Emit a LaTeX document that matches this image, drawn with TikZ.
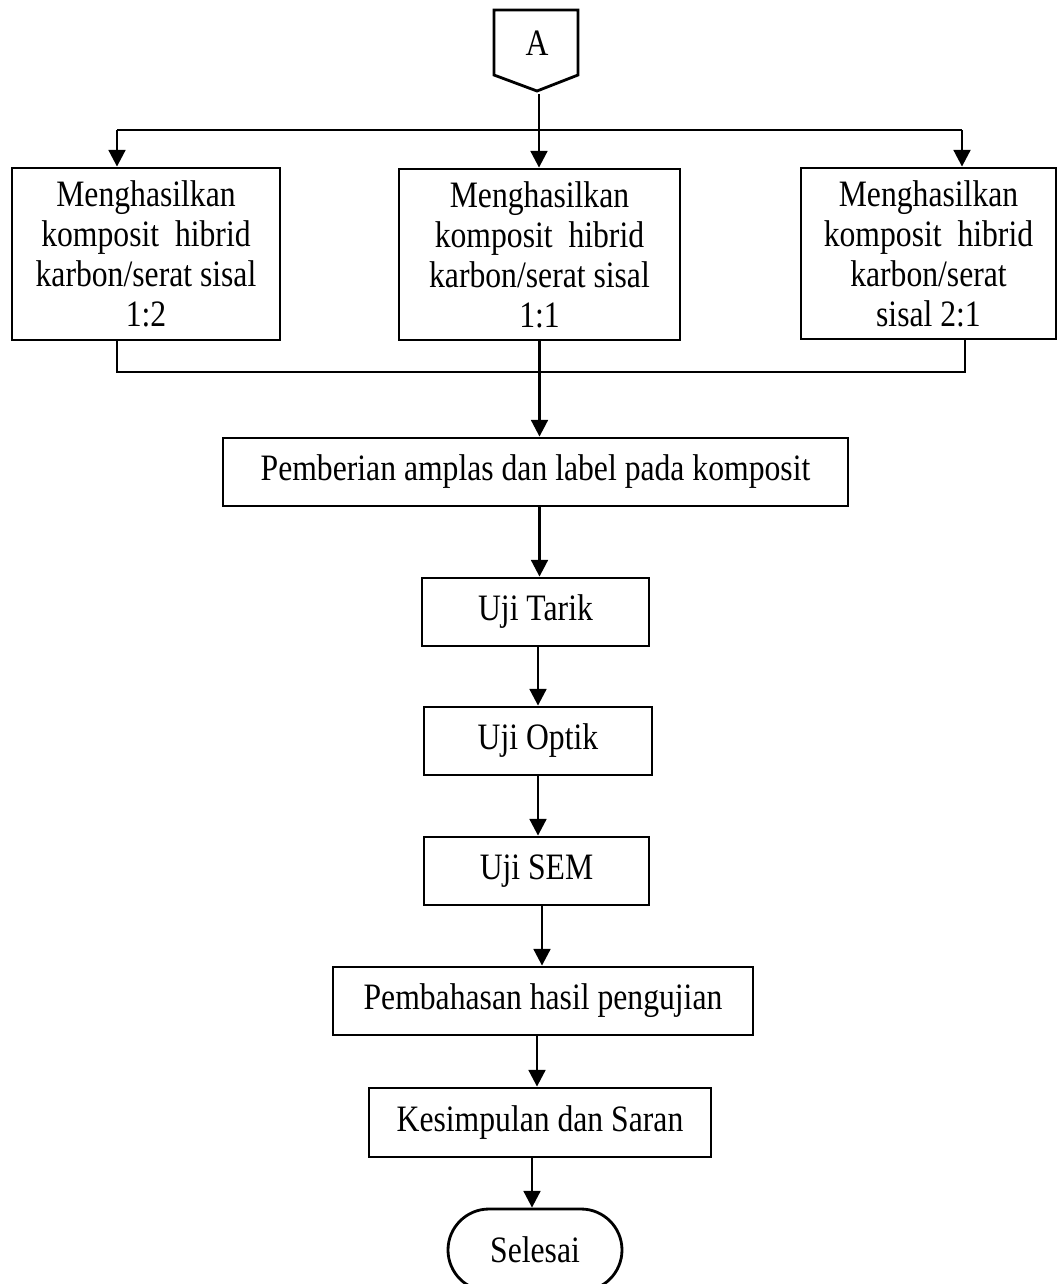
\documentclass[tikz,border=0pt]{standalone}
\usepackage{fontspec}
\setmainfont{Liberation Serif}[FakeStretch=0.85]
\usetikzlibrary{arrows.meta, positioning}

\begin{document}
\begin{tikzpicture}[
    box/.style={draw=black, line width=1.6pt, inner sep=0pt, align=center, font=\fontsize{21.2}{22.8}\selectfont},
    stadium/.style={box, rounded corners=0.82cm, minimum width=3.48cm, minimum height=1.64cm},
    arr/.style={line width=1.6pt, -{Triangle[length=9.5pt,width=9.5pt]}},
    wire/.style={line width=1.6pt}
]
    \useasboundingbox (0,0) rectangle (21.14,-25.68);

    % Define nodes
    \draw[wire] (9.88,-0.2) -- (11.56,-0.2) -- (11.56,-1.5) -- (10.74,-1.82) -- (9.88,-1.5) -- cycle;
    \node[font=\fontsize{21.2}{22.8}\selectfont] (A) at (10.74,-0.86) {A};
    \coordinate (Atip) at (10.78,-1.88);

    \node[box, minimum width=5.36cm, minimum height=3.44cm] (k12) at (2.92,-5.08) {Menghasilkan\\komposit~ hibrid\\karbon/serat sisal\\1:2};
    \node[box, minimum width=5.62cm, minimum height=3.42cm] (k11) at (10.79,-5.09) {Menghasilkan\\komposit~ hibrid\\karbon/serat sisal\\1:1};
    \node[box, minimum width=5.10cm, minimum height=3.42cm] (k21) at (18.57,-5.07) {Menghasilkan\\komposit~ hibrid\\karbon/serat\\sisal 2:1};

    \node[box, minimum width=12.5cm, minimum height=1.36cm] (amplas) at (10.71,-9.44) {Pemberian amplas dan label pada komposit};
    \node[box, minimum width=4.54cm, minimum height=1.36cm] (tarik) at (10.71,-12.24) {Uji Tarik};
    \node[box, minimum width=4.56cm, minimum height=1.36cm] (optik) at (10.76,-14.82) {Uji Optik};
    \node[box, minimum width=4.50cm, minimum height=1.36cm] (sem) at (10.73,-17.42) {Uji SEM};
    \node[box, minimum width=8.40cm, minimum height=1.36cm] (bahas) at (10.86,-20.02) {Pembahasan hasil pengujian};
    \node[box, minimum width=6.84cm, minimum height=1.38cm] (simpul) at (10.80,-22.45) {Kesimpulan dan Saran};
    \node[stadium] (selesai) at (10.70,-25.0) {Selesai};

    % Branch points
    \coordinate (d1) at (2.34,-2.6);
    \coordinate (d3) at (19.24,-2.6);
    \coordinate (j1) at (2.34,-7.44);
    \coordinate (j3) at (19.30,-7.44);

    % Draw edges
    \draw[wire] (d1) -- (d3);
    \draw[arr] (Atip) -- (Atip |- k11.north);
    \draw[arr] (d1) -- (d1 |- k12.north);
    \draw[arr] (d3) -- (d3 |- k21.north);
    \draw[wire] (j1 |- k12.south) -- (j1) -- (j3) -- (j3 |- k21.south);
    \draw[arr] (k11.south) -- (k11.south |- amplas.north);
    \draw[arr] (amplas.south -| k11) -- (k11 |- tarik.north);
    \draw[arr] (tarik.south -| optik) -- (optik.north);
    \draw[arr] (optik.south) -- (optik.south |- sem.north);
    \draw[arr] (sem.south -| 10.84,0) -- (10.84,0 |- bahas.north);
    \draw[arr] (bahas.south -| 10.74,0) -- (10.74,0 |- simpul.north);
    \draw[arr] (simpul.south -| 10.64,0) -- (10.64,0 |- selesai.north);

\end{tikzpicture}
\end{document}
